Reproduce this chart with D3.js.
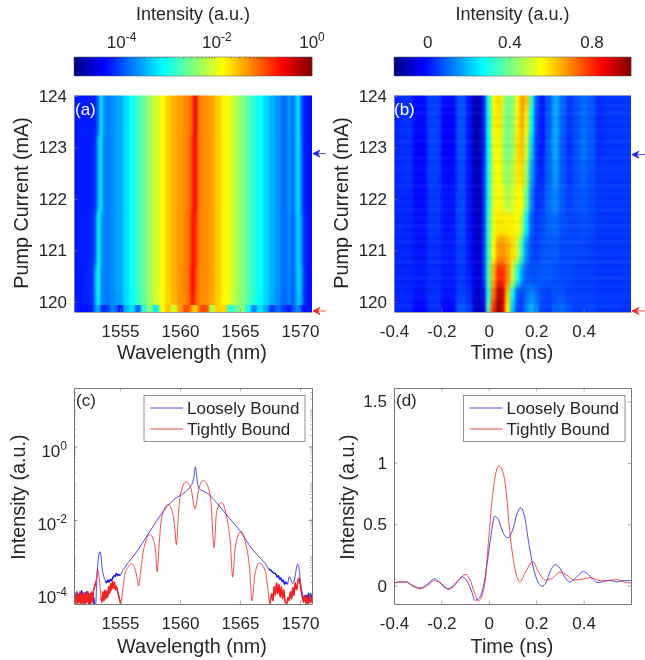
<!DOCTYPE html>
<html>
<head>
<meta charset="utf-8">
<script src="https://cdn.jsdelivr.net/npm/d3@7"></script>
<style>
  body { margin: 0; background: #fff; }
  svg { filter: blur(0.4px); }
  text { font-family: "Liberation Sans", Arial, sans-serif; fill: #262626; }
  .tick text { font-size: 17px; }
  .label { font-size: 19.8px; text-anchor: middle; }
</style>
</head>
<body>
<div id="wrapper"></div>
<script>
// DATA: panel (a), log10 of the spectrum per pump current
const waveCols = [1551.2,1552,1552.7,1553,1553.2,1553.4,1553.6,1553.9,1554.4,1554.7,1555,1555.5,1556,1556.5,1557,1557.5,1558,1558.5,1559,1559.5,1560,1560.5,1560.8,1561.1,1561.3,1561.5,1561.8,1562.2,1562.7,1563.2,1563.7,1564.2,1564.7,1565.2,1565.7,1566.2,1566.7,1567.2,1567.7,1568.2,1568.7,1569.1,1569.4,1569.7,1569.9,1570.1,1570.4,1571];
const currentsA = [124, 122.5, 121, 120.4, 120.02, 119.86];
const spec124 = [-4.25,-4.25,-4.25,-4.2,-3.75,-3,-3.6,-3.75,-3.7,-3.55,-3.55,-3.27,-3.05,-2.85,-2.6,-2.32,-2.1,-1.9,-1.65,-1.5,-1.38,-1.3,-1.2,-1,-0.5,-1.15,-1.28,-1.32,-1.42,-1.62,-1.84,-2,-2.25,-2.45,-2.7,-2.92,-3.12,-3.3,-3.5,-3.65,-3.85,-3.65,-3.82,-3.4,-3.2,-3.9,-4.25,-4.3];
const spec1225 = [-4.25,-4.25,-4.25,-4.1,-3.45,-3.1,-3.7,-3.75,-3.7,-3.55,-3.55,-3.27,-3.05,-2.85,-2.6,-2.32,-2.1,-1.9,-1.65,-1.5,-1.38,-1.28,-1.18,-0.85,-0.6,-1.18,-1.28,-1.32,-1.42,-1.62,-1.84,-2,-2.25,-2.45,-2.7,-2.92,-3.12,-3.3,-3.5,-3.65,-3.85,-3.65,-3.82,-3.42,-3.2,-3.85,-4.25,-4.3];
const spec121 = [-4.25,-4.25,-4.2,-3.85,-3.1,-3.5,-3.72,-3.75,-3.7,-3.55,-3.55,-3.27,-3.05,-2.85,-2.6,-2.32,-2.1,-1.9,-1.65,-1.5,-1.36,-1.26,-1.12,-0.72,-0.78,-1.2,-1.28,-1.32,-1.42,-1.62,-1.84,-2,-2.25,-2.45,-2.7,-2.92,-3.12,-3.3,-3.5,-3.65,-3.85,-3.7,-3.85,-3.5,-3.25,-3.7,-4.2,-4.3];
const spec1204 = [-4.25,-4.25,-4.15,-3.5,-3,-3.65,-3.72,-3.75,-3.7,-3.55,-3.55,-3.27,-3.05,-2.85,-2.6,-2.32,-2.1,-1.9,-1.65,-1.5,-1.34,-1.24,-1.05,-0.62,-0.95,-1.22,-1.3,-1.32,-1.42,-1.62,-1.84,-2,-2.25,-2.45,-2.7,-2.92,-3.12,-3.3,-3.5,-3.65,-3.85,-3.72,-3.88,-3.55,-3.25,-3.55,-4.2,-4.3];
const spec1200 = [-4.25,-4.25,-4.15,-3.55,-3.1,-3.65,-3.72,-3.78,-3.72,-3.6,-3.58,-3.3,-3.08,-2.88,-2.62,-2.34,-2.12,-1.92,-1.67,-1.52,-1.36,-1.26,-1.08,-0.7,-1,-1.24,-1.32,-1.34,-1.44,-1.64,-1.86,-2.02,-2.27,-2.47,-2.72,-2.94,-3.14,-3.32,-3.52,-3.68,-3.88,-3.75,-3.9,-3.6,-3.3,-3.6,-4.2,-4.3];
const spec1198 = [-4.2,-4.3,-4.25,-3.7,-3.42,-4.1,-4.2,-4.03,-3.75,-3.9,-4.3,-3.5,-3.26,-3.85,-2.85,-2.45,-3.2,-1.95,-1.6,-2.1,-1.42,-0.98,-1.08,-1.5,-1.73,-1.25,-0.97,-1.02,-2.2,-1.65,-1.7,-2.9,-2.7,-2.4,-3,-3.7,-3.25,-3.55,-4.1,-3.85,-4.1,-4.25,-3.95,-3.75,-3.65,-4.1,-4.3,-4.3];

// DATA: panel (b), temporal intensity per pump current
const timeCols = [-0.4,-0.35,-0.29,-0.23,-0.17,-0.11,-0.08,-0.06,-0.04,-0.02,0,0.02,0.04,0.06,0.08,0.1,0.12,0.14,0.16,0.18,0.2,0.225,0.25,0.28,0.31,0.34,0.37,0.4,0.43,0.47,0.52,0.6];
const currentsB = [124, 123.5, 123, 122.5, 122, 121.5, 121, 120.5, 120.1, 119.87];
const trace124 = [0.02,0.03,-0.01,0.05,-0.01,0.07,0,-0.1,-0.1,0.02,0.3,0.55,0.6,0.5,0.4,0.42,0.55,0.68,0.62,0.33,0.08,0,0.07,0.17,0.1,0.04,0.07,0.1,0.08,0.03,0.04,0.04];
const trace1235 = [0.02,0.03,-0.01,0.05,-0.02,0.07,0,-0.1,-0.11,0.02,0.29,0.54,0.58,0.48,0.4,0.43,0.57,0.66,0.57,0.28,0.06,0,0.08,0.17,0.09,0.04,0.07,0.1,0.08,0.03,0.04,0.04];
const trace123 = [0.02,0.03,-0.02,0.05,-0.02,0.07,0,-0.1,-0.11,0.02,0.28,0.53,0.56,0.47,0.4,0.44,0.59,0.63,0.5,0.22,0.04,0,0.09,0.17,0.08,0.03,0.07,0.11,0.08,0.03,0.04,0.04];
const trace1225 = [0.02,0.03,-0.01,0.05,-0.01,0.06,0,-0.09,-0.1,0.03,0.29,0.52,0.56,0.49,0.43,0.47,0.58,0.6,0.44,0.17,0.04,0.02,0.09,0.15,0.08,0.04,0.07,0.09,0.07,0.04,0.04,0.04];
const trace122 = [0.02,0.02,-0.01,0.04,0,0.06,0,-0.08,-0.1,0.03,0.3,0.52,0.56,0.52,0.47,0.5,0.56,0.55,0.38,0.13,0.03,0.04,0.1,0.13,0.08,0.05,0.07,0.08,0.06,0.04,0.04,0.04];
const trace1215 = [0.02,0.02,0,0.04,0,0.06,0,-0.07,-0.09,0.04,0.32,0.53,0.58,0.58,0.57,0.57,0.56,0.47,0.25,0.08,0.04,0.06,0.09,0.1,0.07,0.06,0.06,0.07,0.06,0.04,0.04,0.04];
const trace121 = [0.02,0.02,0,0.03,0.01,0.05,0,-0.06,-0.08,0.05,0.33,0.56,0.67,0.68,0.65,0.6,0.5,0.32,0.14,0.06,0.05,0.07,0.08,0.08,0.06,0.06,0.06,0.06,0.05,0.04,0.04,0.04];
const trace1205 = [0.02,0.02,0.01,0.03,0.01,0.04,0.01,-0.05,-0.07,0.05,0.35,0.65,0.8,0.8,0.7,0.5,0.3,0.15,0.08,0.07,0.07,0.08,0.08,0.07,0.06,0.06,0.05,0.05,0.05,0.04,0.04,0.04];
const trace1201 = [0.02,0.02,0,0.03,0,0.05,0.03,-0.07,-0.09,0,0.32,0.72,0.93,0.9,0.62,0.28,0.08,0.05,0.1,0.13,0.1,0.06,0.05,0.07,0.07,0.05,0.05,0.05,0.05,0.04,0.04,0.04];
const trace1198 = [0.02,0.02,-0.02,0.03,-0.02,0.08,0.05,-0.06,-0.12,-0.02,0.39,0.8,0.97,0.88,0.55,0.2,0.06,0.05,0.13,0.19,0.13,0.06,0.05,0.09,0.1,0.07,0.05,0.05,0.06,0.04,0.04,0.03];
// row to row streaks seen in (b), top to bottom
const streaksB = [0.3,-0.4,0.5,-0.2,0.6,-0.5,0.2,-0.6,0.4,0.1,-0.3,0.6,-0.5,0.3,-0.2,0.5,-0.6,0.2,0.4,-0.4,0.1,-0.5,0.6,-0.2,0.3,-0.6,0.4,-0.1,0.5,-0.3,0.2,-0.5,0.6,-0.2,0.3,-0.4,0.5,-0.6,0.1,0.4,-0.3,0.6,-0.5,0.2,-0.1,0.5,-0.4,0.3,-0.6,0.2,0.4,-0.2,0.5,-0.4];

// DATA: panel (c), log10 intensity
const looseNm = [1551.2,1551.3,1551.4,1551.5,1551.6,1551.7,1551.8,1551.9,1552,1552.1,1552.2,1552.3,1552.4,1552.5,1552.6,1552.7,1552.8,1552.9,1552.98,1553.05,1553.15,1553.25,1553.33,1553.42,1553.5,1553.6,1553.7,1553.8,1553.9,1554,1554.1,1554.2,1554.3,1554.4,1554.5,1554.6,1554.7,1554.8,1554.9,1555,1555.2,1555.4,1555.6,1555.8,1556.5,1557.2,1558,1558.9,1559.6,1560.3,1560.8,1561.05,1561.18,1561.28,1561.38,1561.5,1561.7,1562.2,1563.3,1564,1565,1566,1566.7,1567.2,1567.4,1567.6,1567.8,1568,1568.1,1568.2,1568.3,1568.4,1568.5,1568.6,1568.7,1568.8,1568.95,1569.1,1569.25,1569.4,1569.55,1569.7,1569.8,1569.9,1570.05,1570.15,1570.3,1570.4,1570.5,1570.6,1570.7,1570.8,1570.9,1571];
const looseLog = [-4.15,-4.3,-4.05,-4.36,-4.1,-4.3,-4.02,-4.28,-4.12,-4.35,-4.05,-4.25,-4.1,-4.4,-4.08,-4.3,-4.2,-4.5,-4.4,-3.9,-3.3,-3,-2.93,-3.05,-3.35,-3.55,-3.68,-3.75,-3.8,-3.72,-3.78,-3.7,-3.74,-3.66,-3.6,-3.62,-3.53,-3.6,-3.57,-3.6,-3.46,-3.38,-3.27,-3.19,-2.88,-2.52,-2.1,-1.68,-1.45,-1.3,-1.14,-1,-0.8,-0.56,-0.8,-1.1,-1.2,-1.28,-1.66,-1.95,-2.35,-2.85,-3.12,-3.3,-3.42,-3.46,-3.52,-3.56,-3.64,-3.6,-3.7,-3.66,-3.76,-3.72,-3.84,-3.78,-3.84,-3.63,-3.72,-3.82,-3.7,-3.4,-3.28,-3.35,-3.8,-4.03,-4.2,-4.3,-4.15,-4.34,-4.1,-4.3,-4.12,-4.3];
const tightNm = [1551.2,1551.28,1551.36,1551.44,1551.52,1551.6,1551.68,1551.76,1551.84,1551.92,1552,1552.08,1552.16,1552.24,1552.32,1552.4,1552.48,1552.56,1552.64,1552.72,1552.8,1552.9,1553,1553.14,1553.28,1553.42,1553.5,1553.58,1553.66,1553.74,1553.82,1553.9,1553.98,1554.06,1554.14,1554.22,1554.3,1554.38,1554.46,1554.54,1554.62,1554.7,1554.8,1554.92,1555.06,1555.2,1555.4,1555.7,1555.97,1556.3,1556.45,1556.56,1556.7,1556.95,1557.5,1557.8,1557.98,1558.1,1558.25,1558.47,1559.03,1559.35,1559.55,1559.7,1559.85,1560,1560.5,1560.9,1561.25,1561.6,1561.95,1562.36,1562.6,1562.83,1563.06,1563.47,1563.9,1564.2,1564.39,1564.6,1565.06,1565.5,1565.8,1566,1566.25,1566.6,1567.1,1567.3,1567.5,1567.65,1567.75,1567.85,1567.95,1568.05,1568.15,1568.25,1568.35,1568.45,1568.55,1568.65,1568.75,1568.9,1569,1569.1,1569.2,1569.3,1569.4,1569.5,1569.6,1569.7,1569.9,1570,1570.15,1570.3,1570.4,1570.5,1570.6,1570.7,1570.8,1570.9,1571];
const tightLog = [-4.2,-4.36,-4.08,-4.4,-4.15,-4.36,-4.05,-4.4,-4.12,-4.38,-4.06,-4.4,-4.1,-4.36,-4.04,-4.4,-4.12,-4.38,-4.05,-4.36,-4.02,-3.9,-3.75,-3.42,-3.7,-4.2,-4.34,-4.05,-4.3,-4,-4.25,-4.03,-4.2,-3.9,-4.1,-3.82,-4,-3.75,-3.95,-3.78,-4,-3.9,-4.05,-4.2,-4.38,-4.1,-3.56,-3.35,-3.26,-3.47,-3.7,-3.89,-3.55,-2.91,-2.45,-2.62,-2.95,-3.49,-2.8,-1.98,-1.61,-1.82,-2.2,-2.74,-2,-1.42,-0.98,-1.14,-1.73,-1.14,-0.94,-1.14,-1.6,-2.82,-1.8,-1.56,-1.98,-2.7,-3.64,-2.82,-2.37,-2.73,-3.4,-4.3,-3.56,-3.24,-3.47,-3.9,-4.38,-4.1,-4.3,-3.9,-4.15,-3.8,-4.1,-3.85,-4.2,-3.9,-4.25,-4,-4.3,-4.38,-4.2,-4.3,-4.05,-4.25,-3.93,-4.15,-3.8,-4,-3.66,-3.8,-4.12,-4.34,-4.15,-4.38,-4.2,-4.4,-4.15,-4.36,-4.2];
// wavelength spans where the trace is dense noise
const looseNoisy = [[1551.2, 1552.98], [1553.8, 1555], [1567.4, 1569], [1570.3, 1571]];
const tightNoisy = [[1551.2, 1553], [1553.42, 1555.06], [1567.5, 1571]];

// DATA: panel (d), intensity
const looseTime = [-0.4,-0.38,-0.35,-0.32,-0.29,-0.26,-0.23,-0.21,-0.19,-0.17,-0.14,-0.11,-0.09,-0.07,-0.06,-0.04,-0.02,0,0.01,0.025,0.04,0.06,0.08,0.1,0.12,0.135,0.15,0.17,0.19,0.21,0.225,0.24,0.26,0.28,0.3,0.32,0.34,0.36,0.38,0.4,0.42,0.44,0.46,0.48,0.5,0.52,0.54,0.56,0.58,0.6];
const looseInt = [0.02,0.03,0.03,0,-0.02,0.01,0.055,0.03,-0.01,-0.025,0.02,0.07,0.03,-0.06,-0.12,-0.1,0.02,0.28,0.42,0.565,0.54,0.43,0.39,0.45,0.59,0.635,0.57,0.33,0.13,0.02,-0.005,0.02,0.12,0.17,0.14,0.07,0.03,0.05,0.09,0.115,0.09,0.05,0.025,0.03,0.04,0.04,0.03,0.04,0.04,0.04];
const tightTime = [-0.4,-0.38,-0.35,-0.32,-0.29,-0.26,-0.23,-0.21,-0.19,-0.17,-0.15,-0.12,-0.1,-0.08,-0.06,-0.045,-0.03,-0.015,0,0.014,0.028,0.042,0.055,0.07,0.09,0.113,0.131,0.155,0.186,0.21,0.24,0.267,0.3,0.33,0.36,0.4,0.43,0.47,0.5,0.54,0.56,0.6];
const tightInt = [0.015,0.03,0.03,-0.005,-0.025,0,0.04,0.03,0,-0.03,-0.01,0.06,0.09,0.05,-0.06,-0.125,-0.09,0.05,0.39,0.7,0.9,0.975,0.95,0.82,0.41,0.11,0.03,0.11,0.195,0.11,0.045,0.06,0.11,0.085,0.045,0.055,0.065,0.04,0.04,0.05,0.035,0.02];

// DATA: ticks and text
const waveTicks = [1555, 1560, 1565, 1570];
const timeTicks = [-0.4, -0.2, 0, 0.2, 0.4];
const currentTicks = [120, 121, 122, 123, 124];
const logBarTicks = [-4, -2, 0];
const linBarTicks = [0, 0.4, 0.8];
const logAxisTicks = [1, 1e-2, 1e-4];
const intensityTicks = [0, 0.5, 1, 1.5];
const legendNames = ["Loosely Bound", "Tightly Bound"];
const arrowCurrentsA = [122.88, 119.82];
const arrowCurrentsB = [122.86, 119.82];

function drawChart() {
  const blue = "#1f1fe0";
  const red = "#ee2222";
  const dark = "#262626";
  const frame = "#777";

  const left = { x0: 74, x1: 312 };
  const right = { x0: 394, x1: 631 };
  const topRow = { y0: 95.5, y1: 312 };
  const botRow = { y0: 388, y1: 604 };

  const svg = d3.select("#wrapper")
    .append("svg")
    .attr("width", 645)
    .attr("height", 660);
  const defs = svg.append("defs");

  const addBlur = (id, dev) => defs.append("filter")
    .attr("id", id)
    .attr("color-interpolation-filters", "sRGB")
    .append("feGaussianBlur")
    .attr("stdDeviation", dev);
  addBlur("blurA", "1 3");
  addBlur("blurTight", "1.2 0.5");
  addBlur("blurB", "1.6 4");

  const addClip = (id, xr, yr) => defs.append("clipPath")
    .attr("id", id)
    .append("rect")
    .attr("x", xr.x0).attr("y", yr.y0)
    .attr("width", xr.x1 - xr.x0).attr("height", yr.y1 - yr.y0);
  addClip("clipA", left, topRow);
  addClip("clipB", right, topRow);
  addClip("clipC", left, botRow);
  addClip("clipD", right, botRow);

  // SCALES
  const xWave = d3.scaleLinear().domain([1551.17, 1571]).range([left.x0, left.x1]);
  const xTime = d3.scaleLinear().domain([-0.4, 0.6]).range([right.x0, right.x1]);
  const yCurrent = d3.scaleLinear().domain([119.8, 124]).range([topRow.y1, topRow.y0 + 0.5]);
  const yLog = d3.scaleLog().domain([Math.pow(10, -4.29), Math.pow(10, 1.6)]).range([botRow.y1, botRow.y0]);
  const yInt = d3.scaleLinear().domain([-0.15, 1.61]).range([botRow.y1, botRow.y0]);

  const jet = t => {
    const c = v => Math.round(255 * Math.max(0, Math.min(1, v)));
    return `rgb(${c(1.5 - Math.abs(4 * t - 3))},${c(1.5 - Math.abs(4 * t - 2))},${c(1.5 - Math.abs(4 * t - 1))})`;
  };
  const colorLog = d3.scaleSequential(jet).domain([-5, 0]);
  const colorLin = d3.scaleSequential(jet).domain([-0.165, 0.99]);

  // HEATMAPS
  function cellEdges(values, scale) {
    const px = values.map(scale);
    return px.map((p, i) => [
      i === 0 ? p - 15 * Math.sign(px[1] - px[0]) : (px[i - 1] + p) / 2,
      i === px.length - 1 ? p + 15 * Math.sign(px[1] - px[0]) : (p + px[i + 1]) / 2
    ]);
  }

  function drawHeatmap(parent, filter, rows, rowEdges, colEdges, color) {
    const g = parent.append("g").attr("filter", `url(#${filter})`);
    rows.forEach((row, r) => {
      g.selectAll(null)
        .data(row)
        .enter().append("rect")
        .attr("x", (d, i) => colEdges[i][0])
        .attr("width", (d, i) => colEdges[i][1] - colEdges[i][0])
        .attr("y", rowEdges[r][0])
        .attr("height", rowEdges[r][1] - rowEdges[r][0])
        .attr("shape-rendering", "crispEdges")
        .attr("fill", d => color(d));
    });
  }

  const heatA = svg.append("g").attr("clip-path", "url(#clipA)");
  const colsA = cellEdges(waveCols, xWave);
  const rowsA = cellEdges(currentsA, yCurrent);
  // upper block runs on under the tight row so its blur does not fade out
  const upperRows = rowsA.slice(0, 5);
  upperRows[4] = [upperRows[4][0], upperRows[4][1] + 12];
  drawHeatmap(heatA, "blurA", [spec124, spec1225, spec121, spec1204, spec1200], upperRows, colsA, colorLog);
  drawHeatmap(heatA, "blurTight", [spec1198], rowsA.slice(5), colsA, colorLog);

  const heatB = svg.append("g").attr("clip-path", "url(#clipB)");
  const rowsB = [trace124, trace1235, trace123, trace1225, trace122, trace1215, trace121, trace1205, trace1201, trace1198];
  drawHeatmap(heatB, "blurB", rowsB, cellEdges(currentsB, yCurrent), cellEdges(timeCols, xTime), colorLin);

  const streakY = d3.scaleBand().domain(d3.range(streaksB.length)).range([topRow.y0, topRow.y1]);
  heatB.selectAll(".streak")
    .data(streaksB)
    .enter().append("rect")
    .attr("class", "streak")
    .attr("x", right.x0)
    .attr("width", right.x1 - right.x0)
    .attr("y", (d, i) => streakY(i))
    .attr("height", streakY.bandwidth())
    .attr("fill", d => d > 0 ? "#fff" : "#000")
    .attr("opacity", d => Math.abs(d) * 0.06);

  // COLORBARS
  function drawColorbar(xr, domain, color, ticks, fmt, minor) {
    const x = d3.scaleLinear().domain(domain).range([xr.x0, xr.x1]);
    const barTop = 57, barBottom = 76;
    svg.append("g").selectAll("rect")
      .data(d3.range(xr.x0, xr.x1))
      .enter().append("rect")
      .attr("x", d => d)
      .attr("y", barTop)
      .attr("width", 1.2)
      .attr("height", barBottom - barTop)
      .attr("fill", d => color(x.invert(d + 0.5)));
    svg.append("rect")
      .attr("x", xr.x0).attr("y", barTop)
      .attr("width", xr.x1 - xr.x0).attr("height", barBottom - barTop)
      .attr("fill", "none").attr("stroke", "#555").attr("stroke-width", 0.5);
    svg.append("g").selectAll("line")
      .data(minor)
      .enter().append("line")
      .attr("x1", d => x(d)).attr("x2", d => x(d))
      .attr("y1", barTop).attr("y2", barTop + 1.5)
      .attr("stroke", "#333").attr("stroke-width", 0.5);
    const labels = svg.append("g").selectAll("text")
      .data(ticks)
      .enter().append("text")
      .attr("x", d => x(d))
      .attr("y", 48)
      .attr("text-anchor", "middle")
      .style("font-size", "17px");
    fmt(labels);
    svg.append("text")
      .attr("class", "label")
      .attr("x", (xr.x0 + xr.x1) / 2)
      .attr("y", 20)
      .style("font-size", "18px")
      .text("Intensity (a.u.)");
  }

  const powerLabel = (sel, expOf) => {
    sel.append("tspan").text("10");
    sel.append("tspan")
      .attr("dy", -7)
      .style("font-size", "12px")
      .text(expOf);
  };

  const barMinor = d3.range(-5, 0).flatMap(k => d3.range(2, 10).map(m => k + Math.log10(m)));
  drawColorbar(left, [-5, 0], colorLog, logBarTicks, sel => powerLabel(sel, d => d === 0 ? "0" : "-" + Math.abs(d)), barMinor);
  drawColorbar(right, [-0.165, 0.99], colorLin, linBarTicks, sel => sel.text(d => d), linBarTicks);

  // LINE PLOTS
  function drawTrace(clip, points, x, y, color, width) {
    const line = d3.line()
      .x(d => x(d[0]))
      .y(d => y(d[1]))
      .curve(d3.curveMonotoneX);
    svg.append("path")
      .attr("clip-path", `url(#${clip})`)
      .attr("d", line(points))
      .attr("fill", "none")
      .attr("stroke", color)
      .attr("stroke-width", width);
  }

  // my readings used a slightly short decade, this puts them on the true axis
  const readingCal = 0.977;
  const tenTo = v => Math.pow(10, v * readingCal);
  function drawSpectrum(nm, logs, noisy, color) {
    const points = d3.zip(nm, logs.map(tenTo));
    drawTrace("clipC", points, xWave, yLog, color, 0.8);
    noisy.forEach(([a, b]) => {
      drawTrace("clipC", points.filter(d => d[0] >= a && d[0] <= b), xWave, yLog, color, 1.5);
    });
  }
  drawSpectrum(looseNm, looseLog, looseNoisy, blue);
  drawSpectrum(tightNm, tightLog, tightNoisy, red);
  drawTrace("clipD", d3.zip(looseTime, looseInt), xTime, yInt, blue, 0.8);
  drawTrace("clipD", d3.zip(tightTime, tightInt), xTime, yInt, red, 0.8);

  // AXES
  function styleAxis(g, stroke, width) {
    g.selectAll(".domain").attr("stroke", stroke).attr("stroke-width", width);
    g.selectAll(".tick line").attr("stroke", stroke).attr("stroke-width", 0.6);
  }

  function addAxes(xScale, xTicks, yScale, yTicks, yr, stroke, width, yFmt, mirror) {
    const bottom = svg.append("g")
      .attr("transform", `translate(0,${yr.y1})`)
      .call(d3.axisBottom(xScale).tickValues(xTicks).tickSizeInner(-3.5).tickSizeOuter(0).tickPadding(13).tickFormat(d => d));
    const leftAxis = svg.append("g")
      .attr("transform", `translate(${xScale.range()[0]},0)`)
      .call(d3.axisLeft(yScale).tickValues(yTicks).tickSizeInner(-3.5).tickSizeOuter(0).tickPadding(7).tickFormat(yFmt));
    styleAxis(bottom, stroke, width);
    styleAxis(leftAxis, stroke, width);
    if (mirror) {
      const topAxis = svg.append("g")
        .attr("transform", `translate(0,${yr.y0})`)
        .call(d3.axisTop(xScale).tickValues(xTicks).tickSizeInner(-3.5).tickSizeOuter(0).tickFormat(""));
      const rightAxis = svg.append("g")
        .attr("transform", `translate(${xScale.range()[1]},0)`)
        .call(d3.axisRight(yScale).tickValues(yTicks).tickSizeInner(-3.5).tickSizeOuter(0).tickFormat(""));
      styleAxis(topAxis, stroke, width);
      styleAxis(rightAxis, stroke, width);
    }
    return leftAxis;
  }

  const plain = d => d;
  addAxes(xWave, waveTicks, yCurrent, currentTicks, topRow, "#8a8a8a", 0.8, plain, false);
  addAxes(xTime, timeTicks, yCurrent, currentTicks, topRow, "#8a8a8a", 0.8, plain, false);
  addAxes(xTime, timeTicks, yInt, intensityTicks, botRow, frame, 1, plain, true);

  const logAxis = addAxes(xWave, waveTicks, yLog, logAxisTicks, botRow, frame, 1, () => "", true);
  logAxis.selectAll(".tick text")
    .attr("dy", "0.56em")
    .each(function(d) {
      const exponent = Math.round(Math.log10(d));
      powerLabel(d3.select(this), exponent === 0 ? "0" : "-" + Math.abs(exponent));
    });

  // log minor ticks, left and right
  const minorLog = yLog.ticks();
  [[left.x0, 2], [left.x1, -2]].forEach(([x, len]) => {
    svg.append("g").selectAll("line")
      .data(minorLog)
      .enter().append("line")
      .attr("x1", x).attr("x2", x + len)
      .attr("y1", d => yLog(d)).attr("y2", d => yLog(d))
      .attr("stroke", frame).attr("stroke-width", 0.5);
  });

  // AXIS TITLES
  const xTitle = (text, x, y) => svg.append("text")
    .attr("class", "label").attr("x", x).attr("y", y).text(text);
  const yTitle = (text, x, y) => svg.append("text")
    .attr("class", "label")
    .attr("transform", `translate(${x},${y}) rotate(-90)`)
    .text(text);
  xTitle("Wavelength (nm)", 192, 359);
  xTitle("Time (ns)", 512, 359);
  xTitle("Wavelength (nm)", 192, 653);
  xTitle("Time (ns)", 512, 653);
  yTitle("Pump Current (mA)", 27.5, 203);
  yTitle("Pump Current (mA)", 347.5, 203);
  yTitle("Intensity (a.u.)", 25, 497);
  yTitle("Intensity (a.u.)", 353.5, 497);

  // PANEL LETTERS
  [["(a)", 74, 115, "#fff"], ["(b)", 393, 115, "#fff"], ["(c)", 75, 405.5, dark], ["(d)", 395, 405.5, dark]]
    .forEach(([t, x, y, c]) => {
      svg.append("text")
        .attr("x", x + 1).attr("y", y)
        .style("font-size", "17px")
        .style("fill", c)
        .text(t);
    });

  // ARROWS
  function addArrow(x, y, color) {
    svg.append("path")
      .attr("d", `M${x + 14},${y}L${x + 1},${y}M${x + 8},${y - 3.5}L${x + 1},${y}L${x + 8},${y + 3.5}L${x + 5.5},${y}Z`)
      .attr("fill", color)
      .attr("stroke", color)
      .attr("stroke-width", 0.8);
  }
  addArrow(left.x1, yCurrent(arrowCurrentsA[0]), blue);
  addArrow(left.x1, yCurrent(arrowCurrentsA[1]), red);
  addArrow(right.x1, yCurrent(arrowCurrentsB[0]), blue);
  addArrow(right.x1, yCurrent(arrowCurrentsB[1]), red);

  // LEGENDS
  function addLegend(x0, x1) {
    const g = svg.append("g");
    g.append("rect")
      .attr("x", x0).attr("y", 395.5)
      .attr("width", x1 - x0).attr("height", 46)
      .attr("fill", "#fff").attr("stroke", frame).attr("stroke-width", 0.8);
    const rowY = d3.scalePoint().domain(legendNames).range([408, 429]);
    [blue, red].forEach((c, i) => {
      g.append("line")
        .attr("x1", x0 + 6).attr("x2", x0 + 39)
        .attr("y1", rowY(legendNames[i])).attr("y2", rowY(legendNames[i]))
        .attr("stroke", c).attr("stroke-width", 0.8);
      g.append("text")
        .attr("x", x0 + 43).attr("y", rowY(legendNames[i]) + 6)
        .style("font-size", "17px")
        .text(legendNames[i]);
    });
  }
  addLegend(144, 305);
  addLegend(463.5, 625);
}
drawChart();
</script>
</body>
</html>
